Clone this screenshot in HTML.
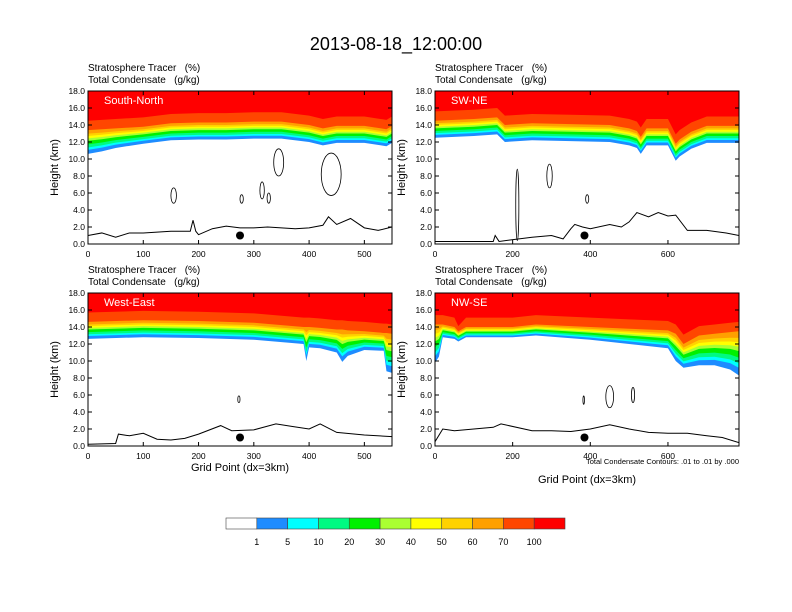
<!DOCTYPE html>
<html><head><meta charset="utf-8"><style>
body{margin:0;background:#fff}
svg{display:block;font-family:"Liberation Sans",sans-serif}
text{white-space:pre}
</style></head><body>
<svg id="c" width="792" height="612" viewBox="0 0 792 612">
<text x="396" y="50" text-anchor="middle" font-size="18">2013-08-18_12:00:00</text>
</svg>
<script>
const levels=["1","5","10","20","30","40","50","60","70","100"];
const colors=["#ffffff","#1e8cff","#00ffff","#00fa82","#00f000","#aaff32","#ffff00","#ffd200","#ffa000","#ff4600","#ff0000"];
const fracs=[0,0.17,0.27,0.4,0.55,0.65,0.75,0.85,1.0];
const redAbove=1.1;
const tlX=[0,25,50,100,150,200,250,300,350,400,425,450,500,540,550];
const tlBase=[10.6,10.9,11.3,11.8,12.2,12.3,12.3,12.4,12.4,12.0,11.6,11.9,11.9,11.5,11.9];
const tlTop=[13.4,13.5,13.6,13.8,14.2,14.3,14.3,14.4,14.4,14.0,13.6,13.9,13.9,13.5,13.9];
const trX=[0,100,160,180,250,350,450,500,520,530,545,600,620,630,660,700,783];
const trBase=[12.5,12.7,12.9,12.0,12.2,12.1,12.0,11.6,11.3,10.6,11.6,11.6,9.8,10.3,11.2,11.9,11.9];
const trTop=[14.5,14.7,14.9,14.0,14.2,14.1,14.0,13.6,13.3,12.6,13.6,13.6,11.8,12.3,13.2,13.9,13.9];
const blX=[0,100,200,300,390,395,400,420,450,460,470,500,535,540,550];
const blBase=[12.6,12.8,12.7,12.5,12.0,10.0,11.6,11.5,11.0,9.9,10.6,11.3,11.2,8.8,8.6];
const blTop=[14.6,14.8,14.7,14.5,14.0,14.0,14.0,13.9,13.7,13.7,13.6,13.5,13.3,13.3,13.2];
const brX=[0,10,20,50,60,80,200,260,400,500,600,620,640,680,720,760,783];
const brBase=[9.8,10.5,12.8,12.6,12.3,12.8,12.8,13.0,12.5,12.0,11.5,10.0,9.2,9.5,9.5,9.0,8.3];
const brTop=[14.3,14.3,14.3,14.0,13.0,14.0,14.0,14.3,14.0,13.8,13.6,13.2,12.0,13.0,13.2,13.4,13.5];
const tlTX=[0,25,50,75,100,125,150,175,185,190,195,200,225,250,275,300,325,350,375,400,425,435,450,475,500,525,550];
const tlT=[1.0,1.3,0.8,1.3,1.3,1.4,1.5,1.5,1.5,2.8,1.5,1.1,1.8,2.1,1.9,1.9,2.0,1.9,1.8,1.9,2.2,3.2,2.3,3.0,1.9,1.6,2.0];
const trTX=[0,150,155,165,250,300,330,350,360,380,400,450,480,500,520,550,575,600,620,650,700,750,783];
const trT=[0.3,0.3,1.0,0.3,0.8,1.0,0.6,1.8,2.3,2.0,1.8,2.3,2.0,2.6,3.7,3.2,3.7,3.3,3.4,1.6,1.6,1.3,1.0];
const blTX=[0,50,55,75,100,125,150,175,200,240,260,300,340,370,400,420,450,500,550];
const blT=[0.2,0.3,1.4,1.2,1.5,0.8,0.7,0.9,1.4,2.4,1.8,1.9,2.6,2.3,2.0,2.6,1.6,1.3,1.1];
const brTX=[0,20,50,150,170,250,300,350,400,450,500,550,600,650,700,740,783];
const brT=[0.5,2.0,1.8,2.2,2.6,1.8,1.8,1.7,2.0,2.5,2.0,1.6,1.5,1.5,1.2,1.0,0.4];
const tlC=[[155,5.7,5,0.9],[345,9.6,9,1.6],[440,8.2,18,2.5],[278,5.3,3,0.5],[315,6.3,4,1.0],[327,5.4,3,0.6]];
const trC=[[212,4.6,4,4.2],[295,8.0,7,1.4],[392,5.3,4,0.5]];
const blC=[[273,5.5,2,0.4]];
const brC=[[383,5.4,2,0.5],[450,5.8,10,1.3],[510,6.0,4,0.9]];
const xTicksS=[0,100,200,300,400,500];
const xTicksL=[0,200,400,600];
const yTicks=[0,2,4,6,8,10,12,14,16,18];
const dotsX=[275,385,275,385];
const NS="http://www.w3.org/2000/svg";
const svg=document.getElementById('c');
function mk(t,a,p){const e=document.createElementNS(NS,t);for(const k in a)e.setAttribute(k,a[k]);(p||svg).appendChild(e);return e;}
const panels=[
 {name:"south-north",x0:88,x1:392,y0:244,y1:91,xmax:550,xs:tlX,base:tlBase,top:tlTop,tx:tlTX,t:tlT,c:tlC,ticks:xTicksS,dot:dotsX[0],lab:"South-North"},
 {name:"sw-ne",x0:435,x1:739,y0:244,y1:91,xmax:783,xs:trX,base:trBase,top:trTop,tx:trTX,t:trT,c:trC,ticks:xTicksL,dot:dotsX[1],lab:"SW-NE"},
 {name:"west-east",x0:88,x1:392,y0:446,y1:293,xmax:550,xs:blX,base:blBase,top:blTop,tx:blTX,t:blT,c:blC,ticks:xTicksS,dot:dotsX[2],lab:"West-East"},
 {name:"nw-se",x0:435,x1:739,y0:446,y1:293,xmax:783,xs:brX,base:brBase,top:brTop,tx:brTX,t:brT,c:brC,ticks:xTicksL,dot:dotsX[3],lab:"NW-SE"}];
panels.forEach((p,pi)=>{
 const g=mk('g',{});
 
 
 const X=v=>p.x0+(p.x1-p.x0)*v/p.xmax, Y=v=>p.y0+(p.y1-p.y0)*v/18;
 const cid='clip'+pi;
 const cp=mk('clipPath',{id:cid},g);mk('rect',{x:p.x0,y:p.y1,width:p.x1-p.x0,height:p.y0-p.y1},cp);
 const fg=mk('g',{'clip-path':'url(#'+cid+')'},g);
 for(let l=0;l<levels.length;l++){
  let d='M'+X(0)+','+Y(18);
  p.xs.forEach((x,i)=>{
   const top=Math.max(p.top[i],p.base[i]+1.2);
   const h=l<fracs.length? p.base[i]+(top-p.base[i])*fracs[l] : p.top[i]+redAbove;
   d+=' L'+X(x)+','+Y(Math.min(18,h));});
  d+=' L'+X(p.xmax)+','+Y(18)+'Z';
  const b=mk('path',{d:d,fill:colors[l+1]},fg);
  
  
 }
 let td='';
 p.tx.forEach((x,i)=>{td+=(i?' L':'M')+X(x)+','+Y(p.t[i]);});
 const tl=mk('path',{d:td,fill:'none',stroke:'#000','stroke-width':1},fg);
 
 
 p.c.forEach(c=>{
  const e=mk('ellipse',{cx:X(c[0]),cy:Y(c[1]),rx:(p.x1-p.x0)*c[2]/p.xmax,ry:(p.y0-p.y1)*c[3]/18,fill:'none',stroke:'#000','stroke-width':0.8},fg);
  
  
 });
 const dt=mk('circle',{cx:X(p.dot),cy:Y(1.0),r:4,fill:'#000'},g);
 
 
 const fr=mk('rect',{x:p.x0,y:p.y1,width:p.x1-p.x0,height:p.y0-p.y1,fill:'none',stroke:'#000','stroke-width':1},g);
 
 
 yTicks.forEach(v=>{
  mk('line',{x1:p.x0,x2:p.x0+4,y1:Y(v),y2:Y(v),stroke:'#000'},g);
  mk('line',{x1:p.x1,x2:p.x1-4,y1:Y(v),y2:Y(v),stroke:'#000'},g);
  const t=mk('text',{x:p.x0-3,y:Y(v)+3,'text-anchor':'end','font-size':8.5},g);t.textContent=v.toFixed(1);
  
  
 });
 p.ticks.forEach(v=>{
  mk('line',{x1:X(v),x2:X(v),y1:p.y0,y2:p.y0-4,stroke:'#000'},g);
  mk('line',{x1:X(v),x2:X(v),y1:p.y1,y2:p.y1+4,stroke:'#000'},g);
  const t=mk('text',{x:X(v),y:p.y0+13,'text-anchor':'middle','font-size':8.5},g);t.textContent=v;
  
  
 });
 const yl=mk('text',{x:0,y:0,transform:'translate('+(p.x0-30)+','+((p.y0+p.y1)/2)+') rotate(-90)','text-anchor':'middle','font-size':11},g);yl.textContent='Height (km)';
 
 
 const lb=mk('text',{x:p.x0+16,y:p.y1+13,fill:'#fff','font-size':11},g);lb.textContent=p.lab;
 
 
 const t1=mk('text',{x:p.x0,y:p.y1-20,'font-size':10},g);t1.textContent='Stratosphere Tracer   (%)';
 
 
 const t2=mk('text',{x:p.x0,y:p.y1-8,'font-size':10},g);t2.textContent='Total Condensate   (g/kg)';
 
 
});
const xa1=mk('text',{x:240,y:471,'text-anchor':'middle','font-size':11});xa1.textContent='Grid Point (dx=3km)';


const xa2=mk('text',{x:587,y:483,'text-anchor':'middle','font-size':11});xa2.textContent='Grid Point (dx=3km)';


const cn=mk('text',{x:739,y:464,'text-anchor':'end','font-size':7.5});cn.textContent='Total Condensate Contours: .01 to .01 by .000';


const cb=mk('g',{});


const bw=(565-226)/colors.length;
colors.forEach((c,i)=>{
 const r=mk('rect',{x:226+i*bw,y:518,width:bw,height:11,fill:c,stroke:'#444','stroke-width':0.6},cb);
 
 
});
levels.forEach((l,i)=>{
 const t=mk('text',{x:226+(i+1)*bw,y:545,'text-anchor':'middle','font-size':9},cb);t.textContent=l;
 
 
});
</script>
</body></html>
